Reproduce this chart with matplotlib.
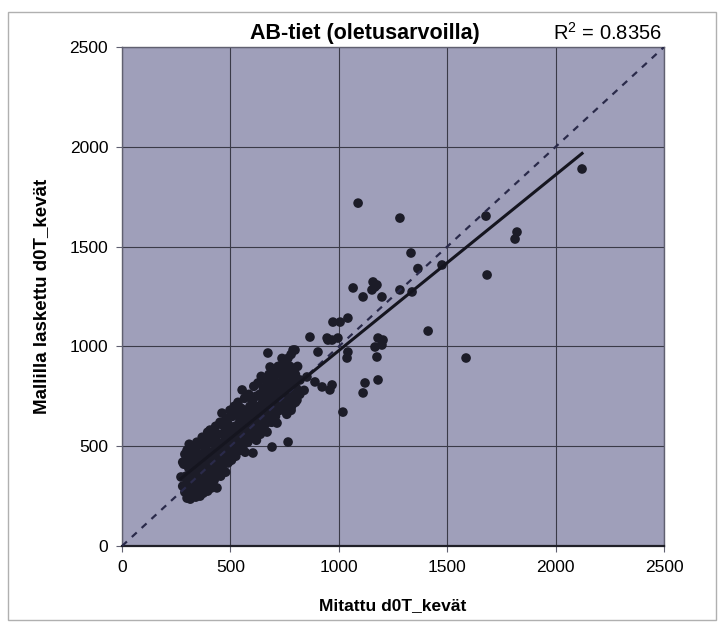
import matplotlib
matplotlib.use("Agg")
import matplotlib.pyplot as plt
import numpy as np

plt.rcParams['font.family'] = ['Liberation Sans', 'DejaVu Sans']
plt.rcParams['mathtext.fontset'] = 'custom'
plt.rcParams['mathtext.rm'] = 'Liberation Sans'

# tiheä joukko (mitattu, laskettu)
cluster = [
    (272, 346), (280, 300), (285, 410), (290, 270), (295, 350), (298, 440), (300, 320), (305, 260),
    (308, 390), (310, 470), (312, 300), (315, 420), (318, 350), (320, 255), (323, 256), (325, 380),
    (328, 300), (330, 450), (330, 330),
    (300, 240), (315, 235), (340, 245), (360, 250), (375, 265), (395, 275), (420, 300),
    (300, 480), (320, 500), (345, 520), (370, 545), (395, 570),
    (280, 420), (290, 460), (310, 510),
    (335, 280), (338, 400), (340, 490), (342, 350), (345, 310), (348, 430), (350, 270), (352, 380),
    (355, 460), (358, 330), (360, 290), (362, 410), (365, 510), (368, 360), (370, 440), (372, 300),
    (375, 390), (378, 470), (380, 340), (383, 281), (385, 420), (388, 500), (390, 360), (392, 310),
    (395, 450), (398, 390), (400, 530),
    (402, 330), (405, 470), (406, 581), (408, 410), (410, 290), (412, 360), (415, 520), (418, 440),
    (420, 380), (422, 560), (425, 330), (428, 480), (430, 410), (432, 600), (435, 360), (438, 291),
    (438, 520), (440, 450), (442, 390), (445, 560), (448, 480), (450, 420), (452, 620), (455, 350),
    (458, 510), (460, 450), (461, 666), (463, 400), (465, 560), (468, 490), (470, 600), (472, 430),
    (475, 530), (478, 370), (480, 470), (482, 640), (485, 560), (488, 500), (489, 416), (490, 610),
    (492, 440), (495, 540), (498, 680), (500, 480),
    (502, 590), (505, 430), (508, 520), (510, 650), (512, 470), (515, 560), (518, 700), (520, 510),
    (522, 600), (525, 450), (528, 540), (530, 660), (532, 490), (535, 720), (538, 580), (540, 520),
    (542, 620), (545, 480), (548, 560), (550, 690), (552, 530), (554, 782), (556, 600), (558, 500),
    (560, 650), (562, 560), (565, 740), (568, 470), (570, 610), (572, 540), (575, 680), (578, 590),
    (580, 520), (582, 640), (585, 760), (588, 570), (590, 700), (592, 620), (595, 540), (598, 660),
    (600, 590), (602, 730), (604, 466), (606, 640), (608, 800), (610, 560), (612, 690), (615, 610),
    (618, 750), (620, 530), (622, 660), (625, 580), (627, 817), (630, 700), (632, 620), (635, 760),
    (638, 560), (640, 680), (642, 850), (645, 610), (648, 720), (650, 660), (652, 790), (655, 590),
    (658, 700), (660, 640), (662, 830), (665, 740), (668, 670), (669, 571), (670, 780), (672, 620),
    (675, 700), (678, 860), (680, 740), (682, 660), (683, 897), (685, 800), (688, 700), (690, 620),
    (692, 760), (695, 840), (698, 680),
    (700, 780), (702, 720), (705, 880), (708, 650), (710, 760), (712, 820), (715, 616), (718, 700),
    (720, 900), (722, 790), (725, 740), (728, 680), (730, 860), (732, 800), (735, 720), (738, 940),
    (740, 770), (743, 917), (745, 840), (748, 690), (750, 800), (752, 740), (755, 880), (758, 820),
    (760, 660), (762, 760), (765, 940), (768, 850), (770, 720), (772, 800), (775, 900), (778, 780),
    (780, 960), (782, 700), (785, 840), (788, 760), (790, 880), (792, 820), (795, 740), (798, 982),
    (800, 860), (805, 790), (807, 731), (810, 900),
    (760, 700), (780, 680), (800, 720), (820, 760), (840, 780),
]

# hajanaisemmat pisteet
scattered = [
    (1089, 1718), (1282, 1643), (1679, 1653), (2122, 1889), (1822, 1573), (1813, 1538),
    (1333, 1468), (1365, 1390), (1476, 1408), (1684, 1358), (1412, 1077), (1587, 942),
    (1282, 1283), (1338, 1273), (1066, 1293), (1158, 1323), (1167, 1298), (1153, 1283),
    (1112, 1248), (1199, 1248), (1176, 1308), (973, 1122), (1006, 1122), (1042, 1142),
    (867, 1047), (946, 1042), (969, 1032), (996, 1042), (1181, 1042), (1204, 1032),
    (1167, 997), (1199, 1007), (904, 972), (1042, 972), (1038, 942), (1176, 947),
    (673, 967), (789, 982), (890, 822), (923, 797), (959, 782), (969, 807), (1121, 817),
    (1112, 767), (1181, 832), (1019, 671), (766, 521), (692, 496), (853, 847), (821, 832),
    (950, 1032),
]

mitattu = np.array([p[0] for p in cluster + scattered], dtype=float)
laskettu = np.array([p[1] for p in cluster + scattered], dtype=float)

fig = plt.figure(figsize=(7.19, 6.33), dpi=100)
fig.patch.set_facecolor('white')
ax = fig.add_axes([0.1697, 0.1374, 0.7538, 0.7883])
ax.set_facecolor('#9f9fba')

ax.set_xlim(0, 2500)
ax.set_ylim(0, 2500)
ax.set_xticks(np.arange(0, 2501, 500))
ax.set_yticks(np.arange(0, 2501, 500))
ax.grid(True, color='#3a3a48', lw=0.8)
ax.set_axisbelow(True)

ax.scatter(mitattu, laskettu, s=48, color='#1c1c28', edgecolors='none', zorder=3)

# y = x
ax.plot([0, 2500], [0, 2500], color='#2a2a4a', lw=1.6, ls=(0, (3, 3)), zorder=4)

# lineaarinen trendi
k, b = np.polyfit(mitattu, laskettu, 1)
xx = np.array([mitattu.min(), mitattu.max()])
ax.plot(xx, k * xx + b, color='#15151f', lw=2.2, zorder=5)

for s in ax.spines.values():
    s.set_color('#606070')
    s.set_linewidth(1.0)
ax.spines['bottom'].set_color('#202028')
ax.spines['bottom'].set_linewidth(1.6)

ax.tick_params(length=4, width=0.8, color='#606070', labelsize=12.5, pad=6)
ax.set_xlabel('Mitattu d0T_kevät', fontsize=12.5, fontweight='bold', labelpad=17)
ax.set_ylabel('Mallilla laskettu d0T_kevät', fontsize=13.5, fontweight='bold', labelpad=14)

fig.text(365 / 719, 1 - 33 / 633, 'AB-tiet (oletusarvoilla)', ha='center', va='center',
         fontsize=15.5, fontweight='bold')
fig.text(553 / 719, 1 - 33 / 633, 'R$^2$ = 0.8356', ha='left', va='center', fontsize=14.5)

fig.add_artist(plt.Rectangle((8 / 719, 1 - 620 / 633), 708 / 719, 608 / 633,
                             transform=fig.transFigure, fill=False, ec='#b0b0b0', lw=1.0))

fig.savefig('out.png', dpi=100)
